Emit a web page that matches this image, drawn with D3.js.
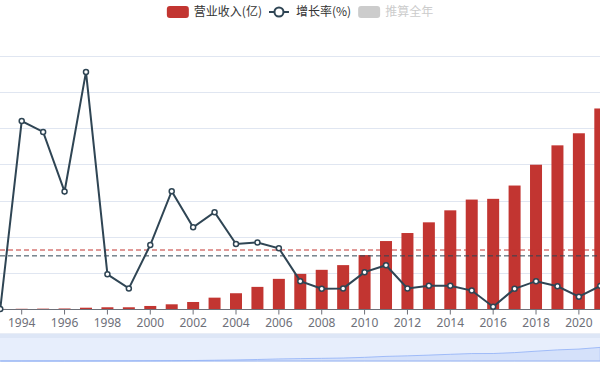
<!DOCTYPE html>
<html>
<head>
<meta charset="utf-8">
<script src="https://cdn.jsdelivr.net/npm/d3@7"></script>
<style>
  body { margin: 0; background: #fff; }
  svg { display: block; font-family: "Noto Sans CJK SC", "Noto Sans", sans-serif; }
</style>
</head>
<body>
<div id="chart"></div>
<script>
// Data
var years = [1993, 1994, 1995, 1996, 1997, 1998, 1999, 2000, 2001, 2002, 2003, 2004, 2005, 2006, 2007,
  2008, 2009, 2010, 2011, 2012, 2013, 2014, 2015, 2016, 2017, 2018, 2019, 2020, 2021];
var revenue = [1, 3, 5, 7, 18, 24, 24, 42, 65, 97, 157, 218, 306, 417, 486,
  542, 607, 746, 940, 1051, 1199, 1365, 1514, 1524, 1708, 1996, 2264, 2431, 2774];
var growth = [0, 52, 49, 32.5, 65.6, 9.6, 5.7, 17.7, 32.6, 22.6, 26.8, 18, 18.4, 16.8, 7.7,
  5.6, 5.7, 10.2, 12.1, 5.7, 6.4, 6.4, 5.1, 0.6, 5.6, 7.7, 6.3, 3.4, 6.4];
var tickYears = [1994, 1996, 1998, 2000, 2002, 2004, 2006, 2008, 2010, 2012, 2014, 2016, 2018, 2020];
var legendNames = ["营业收入(亿)", "增长率(%)", "推算全年"];

// average mark lines
var revenueAvg = 816;
var growthAvg = 14.7;

// axis ranges (the y axes themselves are outside the picture)
var revenueMax = 3500;
var growthMax = 70;
var sliderMax = 5500;

var width = 600;
var height = 375;
var plotTop = 56;
var plotBottom = 309;

var red = "#c23531";
var dark = "#2f4554";

var svg = d3.select("#chart")
  .append("svg")
  .attr("width", width)
  .attr("height", height);

svg.append("rect")
  .attr("width", width)
  .attr("height", height)
  .attr("fill", "#fff");

// x scale: one band per year, the chart is cropped at both sides
var step = 21.43;
var x = d3.scaleBand()
  .domain(years)
  .range([0.27 - step / 2, 0.27 - step / 2 + step * years.length]);

var yBar = d3.scaleLinear()
  .domain([0, revenueMax])
  .range([plotBottom, plotTop]);

var yLine = d3.scaleLinear()
  .domain([0, growthMax])
  .range([plotBottom, plotTop]);

// grid lines
svg.append("g")
  .selectAll("line")
  .data(yBar.ticks(7).filter(function (d) { return d > 0; }))
  .enter()
  .append("line")
  .attr("x1", 0)
  .attr("x2", width)
  .attr("y1", function (d) { return Math.round(yBar(d)) + 0.5; })
  .attr("y2", function (d) { return Math.round(yBar(d)) + 0.5; })
  .attr("stroke", "#e0e6f1");

// bars
var barWidth = 12;
svg.append("g")
  .selectAll("rect")
  .data(revenue)
  .enter()
  .append("rect")
  .attr("x", function (d, i) { return x(years[i]) + x.bandwidth() / 2 - barWidth / 2; })
  .attr("y", function (d) { return yBar(d); })
  .attr("width", barWidth)
  .attr("height", function (d) { return plotBottom - yBar(d); })
  .attr("fill", red);

// x axis
var xAxis = svg.append("g")
  .attr("transform", "translate(0," + (plotBottom + 0.5) + ")")
  .call(d3.axisBottom(x).tickValues(tickYears).tickSize(5).tickPadding(4).tickSizeOuter(0));
xAxis.select(".domain").attr("stroke", "#6e7079");
xAxis.selectAll(".tick line").attr("stroke", "#6e7079");
xAxis.selectAll("text")
  .attr("fill", "#6e7079")
  .style("font-size", "12px")
  .style("font-family", "'Noto Sans', sans-serif");
xAxis.select(".domain").attr("d", "M-20,0H620");

// average mark lines
svg.append("line")
  .attr("x1", 0).attr("x2", width)
  .attr("y1", yBar(revenueAvg)).attr("y2", yBar(revenueAvg))
  .attr("stroke", red)
  .attr("stroke-dasharray", "5,3");
svg.append("line")
  .attr("x1", 0).attr("x2", width)
  .attr("y1", yLine(growthAvg)).attr("y2", yLine(growthAvg))
  .attr("stroke", dark)
  .attr("stroke-dasharray", "5,3");

// growth line
var line = d3.line()
  .x(function (d, i) { return x(years[i]) + x.bandwidth() / 2; })
  .y(function (d) { return yLine(d); });

svg.append("path")
  .datum(growth)
  .attr("d", line)
  .attr("fill", "none")
  .attr("stroke", dark)
  .attr("stroke-width", 2);

svg.append("g")
  .selectAll("circle")
  .data(growth)
  .enter()
  .append("circle")
  .attr("cx", function (d, i) { return x(years[i]) + x.bandwidth() / 2; })
  .attr("cy", function (d) { return yLine(d); })
  .attr("r", 2.5)
  .attr("fill", "#fff")
  .attr("stroke", dark)
  .attr("stroke-width", 1.5);

// data zoom slider at the bottom
var sliderTop = 334;
var sliderBottom = 361;
svg.append("rect")
  .attr("x", -10)
  .attr("y", sliderTop)
  .attr("width", width + 20)
  .attr("height", sliderBottom - sliderTop)
  .attr("fill", "#e7eefc")
  .attr("stroke", "#d2dbee");
svg.append("rect")
  .attr("x", -10)
  .attr("y", sliderTop)
  .attr("width", width + 20)
  .attr("height", 4)
  .attr("fill", "#dde6f6");

var ySlider = d3.scaleLinear()
  .domain([0, sliderMax])
  .range([sliderBottom, sliderTop]);

var shadow = d3.area()
  .x(function (d, i) { return x(years[i]) + x.bandwidth() / 2; })
  .y0(sliderBottom)
  .y1(function (d) { return ySlider(d); });

svg.append("path")
  .datum(revenue)
  .attr("d", shadow)
  .attr("fill", "#8fb0f7")
  .attr("fill-opacity", 0.2)
  .attr("stroke", "#8fb0f7")
  .attr("stroke-width", 0.8);

// legend
var legend = svg.append("g").attr("transform", "translate(0,12)");
var iconW = 22;
var gap = 7;
var cursor = 0;
var items = [];
legendNames.forEach(function (name, i) {
  var g = legend.append("g");
  var t = g.append("text")
    .attr("x", iconW + 5)
    .attr("dy", "0.35em")
    .style("font-size", "12px")
    .attr("fill", i === 2 ? "#ccc" : "#333")
    .text(name);
  if (i === 0) {
    g.append("rect").attr("x", 0).attr("y", -6).attr("width", iconW).attr("height", 12)
      .attr("rx", 3).attr("fill", red);
  } else if (i === 1) {
    g.append("line").attr("x1", 0).attr("x2", iconW - 2).attr("y1", 0).attr("y2", 0)
      .attr("stroke", dark).attr("stroke-width", 2);
    g.append("circle").attr("cx", (iconW - 2) / 2).attr("cy", 0).attr("r", 4.5)
      .attr("fill", "#fff").attr("stroke", dark).attr("stroke-width", 2);
  } else {
    g.append("rect").attr("x", 0).attr("y", -6).attr("width", iconW).attr("height", 12)
      .attr("rx", 3).attr("fill", "#ccc");
  }
  var w = iconW + 5 + t.node().getComputedTextLength();
  items.push({ g: g, x: cursor });
  cursor += w + gap;
});
var total = cursor - gap;
var startX = width / 2 - total / 2;
items.forEach(function (it) {
  it.g.attr("transform", "translate(" + (startX + it.x) + ",0)");
});
</script>
</body>
</html>
